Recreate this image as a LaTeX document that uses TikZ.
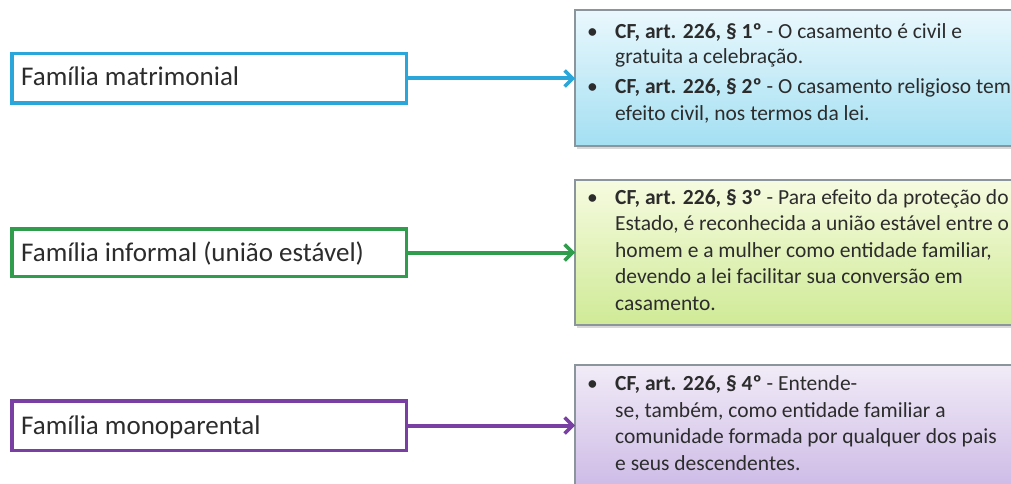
\documentclass[tikz,border=0pt]{standalone}
\usepackage{fontspec}
\setmainfont{Carlito}
\usetikzlibrary{arrows.meta,shadows}
\definecolor{cblue}{HTML}{2BA6DA}
\definecolor{cgreen}{HTML}{2F9D4C}
\definecolor{cpurple}{HTML}{7A3FA3}
\definecolor{bordergray}{HTML}{8A969B}
\definecolor{txt}{HTML}{2C2C2C}
\definecolor{b1top}{HTML}{EAF8FD}
\definecolor{b1bot}{HTML}{A3DFF2}
\definecolor{b2top}{HTML}{F6FBE0}
\definecolor{b2bot}{HTML}{CFEA96}
\definecolor{b3top}{HTML}{F1EBF7}
\definecolor{b3bot}{HTML}{C8B4E4}
\tikzset{
  x=1pt,y=-1pt,
  famtext/.style={anchor=base west,font=\fontsize{27}{30}\selectfont,text=txt,inner sep=0pt},
  fambox/.style={draw,line width=3.5pt},
  infobox/.style={draw=bordergray,line width=1.3pt,drop shadow={shadow xshift=2pt,shadow yshift=-3pt,opacity=0.3}},
  ln/.style={anchor=base west,inner sep=0pt,text=txt,font=\fontsize{21.5}{26}\selectfont},
  bl/.style={anchor=base west,inner sep=0pt,text=txt,font=\fontsize{21.5}{26}\selectfont},
  conn/.style={line width=4pt,-{Straight Barb[length=8pt,width=16pt,line width=3.5pt]}},
}
\begin{document}
\begin{tikzpicture}
\useasboundingbox (0,0) rectangle (1011,484);
\clip (0,0) rectangle (1011,484);
\fill[white] (0,0) rectangle (1011,484);
% right boxes
\path[infobox,top color=b1top,bottom color=b1bot] (575,10) rectangle (1030,146);
\path[infobox,top color=b2top,bottom color=b2bot] (575,180) rectangle (1030,325);
\path[infobox,top color=b3top,bottom color=b3bot] (575,365) rectangle (1030,505);
\coordinate (r1) at (575,78.5);
\coordinate (r2) at (575,252.5);
\coordinate (r3) at (575,425.5);
% box 1 text
\node[bl] (b1a) at (587,39) {\textbullet};
\node[ln] (t1a) at (615,39) {\textbf{CF, art. 226, § 1º} - O casamento é civil e};
\node[ln] (t1b) at (615,64) {gratuita a celebração.};
\node[bl] (b1b) at (587,94) {\textbullet};
\node[ln] (t1c) at (615,94) {\textbf{CF, art. 226, § 2º} - O casamento religioso tem};
\node[ln] (t1d) at (615,121) {efeito civil, nos termos da lei.};
% box 2 text
\node[bl] (b2a) at (587,204) {\textbullet};
\node[ln] (t2a) at (615,204) {\textbf{CF, art. 226, § 3º} - Para efeito da proteção do};
\node[ln] (t2b) at (615,230.5) {Estado, é reconhecida a união estável entre o};
\node[ln] (t2c) at (615,257) {homem e a mulher como entidade familiar,};
\node[ln] (t2d) at (615,283.5) {devendo a lei facilitar sua conversão em};
\node[ln] (t2e) at (615,310) {casamento.};
% box 3 text
\node[bl] (b3a) at (587,390) {\textbullet};
\node[ln] (t3a) at (615,390) {\textbf{CF, art. 226, § 4º} - Entende-};
\node[ln] (t3b) at (615,417) {se, também, como entidade familiar a};
\node[ln] (t3c) at (615,443.5) {comunidade formada por qualquer dos pais};
\node[ln] (t3d) at (615,470) {e seus descendentes.};
% left boxes
\draw[fambox,draw=cblue] (11.75,53.75) rectangle (406.25,103.25);
\draw[fambox,draw=cgreen] (11.75,228.75) rectangle (406.25,276.25);
\draw[fambox,draw=cpurple] (11.75,400.75) rectangle (406.25,450.25);
\coordinate (l1) at (406,78.5);
\coordinate (l2) at (406,252.5);
\coordinate (l3) at (406,425.5);
\node[famtext] (f1) at (21,86) {Família matrimonial};
\node[famtext] (f2) at (21,261) {Família informal (união estável)};
\node[famtext] (f3) at (21,434) {Família monoparental};
\draw[conn,cblue] (l1) -- (r1);
\draw[conn,cgreen] (l2) -- (r2);
\draw[conn,cpurple] (l3) -- (r3);
\end{tikzpicture}
\end{document}
